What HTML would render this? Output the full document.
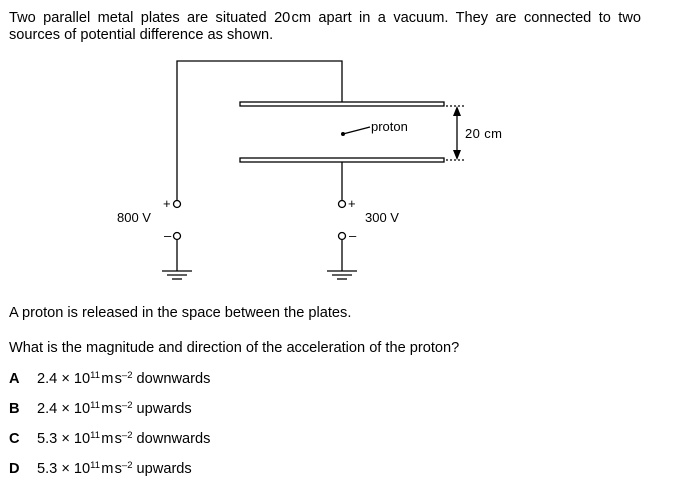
<!DOCTYPE html>
<html><head><style>
body{margin:0;width:674px;height:487px;background:#fff;font-family:"Liberation Sans",Arial,sans-serif;color:#000;position:relative;overflow:hidden}
.t{position:absolute;font-size:14.6px;white-space:nowrap}
.o{position:absolute;font-size:14.6px;white-space:nowrap}
.o b{display:inline-block;width:28px;font-size:14.6px}
sup{font-size:9.5px;vertical-align:5px;line-height:0}
</style></head><body>
<div class="t" style="left:9px;top:10px;width:632px;text-align:justify;text-align-last:justify">Two parallel metal plates are situated 20&#8202;cm apart in a vacuum. They are connected to two</div>
<div class="t" style="left:9px;top:27px">sources of potential difference as shown.</div>
<svg style="position:absolute;left:0;top:0" width="674" height="300">
<g stroke="#000" stroke-width="1.3" fill="none">
<polyline points="177,200 177,61 342,61 342,102"/>
<rect x="240" y="102" width="204" height="4" fill="#fff"/>
<rect x="240" y="158" width="204" height="4" fill="#fff"/>
<line x1="342" y1="162" x2="342" y2="200"/>
<circle cx="177" cy="204" r="3.5" fill="#fff"/>
<circle cx="177" cy="236" r="3.5" fill="#fff"/>
<circle cx="342" cy="204" r="3.5" fill="#fff"/>
<circle cx="342" cy="236" r="3.5" fill="#fff"/>
<line x1="177" y1="240" x2="177" y2="271"/>
<line x1="342" y1="240" x2="342" y2="271"/>
<line x1="162" y1="271" x2="192" y2="271"/><line x1="167" y1="275" x2="187" y2="275"/><line x1="172" y1="279" x2="182" y2="279"/>
<line x1="327" y1="271" x2="357" y2="271"/><line x1="332" y1="275" x2="352" y2="275"/><line x1="337" y1="279" x2="347" y2="279"/>
<line x1="343" y1="134" x2="370" y2="127"/>
<line x1="446" y1="106" x2="465" y2="106" stroke-dasharray="2,2"/>
<line x1="446" y1="160" x2="465" y2="160" stroke-dasharray="2,2"/>
<line x1="457" y1="112" x2="457" y2="154"/>
</g>
<circle cx="343" cy="134" r="2" fill="#000"/>
<polygon points="457,106 453,116 461,116" fill="#000"/>
<polygon points="457,160 453,150 461,150" fill="#000"/>
<g font-family="Liberation Sans,Arial,sans-serif" font-size="13">
<text x="371" y="131">proton</text>
<text x="465" y="138" textLength="37">20 cm</text>
<text x="117" y="222">800 V</text>
<text x="365" y="222">300 V</text>
<text x="163" y="208">+</text>
<text x="348" y="208">+</text>
<text x="164" y="240">–</text>
<text x="349" y="240">–</text>
</g>
</svg>
<div class="t" style="left:9px;top:305px">A proton is released in the space between the plates.</div>
<div class="t" style="left:9px;top:340px">What is the magnitude and direction of the acceleration of the proton?</div>
<div class="o" style="left:9px;top:371px"><b>A</b>2.4 × 10<sup>11</sup>&#8202;m&#8202;s<sup>–2</sup> downwards</div>
<div class="o" style="left:9px;top:401px"><b>B</b>2.4 × 10<sup>11</sup>&#8202;m&#8202;s<sup>–2</sup> upwards</div>
<div class="o" style="left:9px;top:431px"><b>C</b>5.3 × 10<sup>11</sup>&#8202;m&#8202;s<sup>–2</sup> downwards</div>
<div class="o" style="left:9px;top:461px"><b>D</b>5.3 × 10<sup>11</sup>&#8202;m&#8202;s<sup>–2</sup> upwards</div>
</body></html>
